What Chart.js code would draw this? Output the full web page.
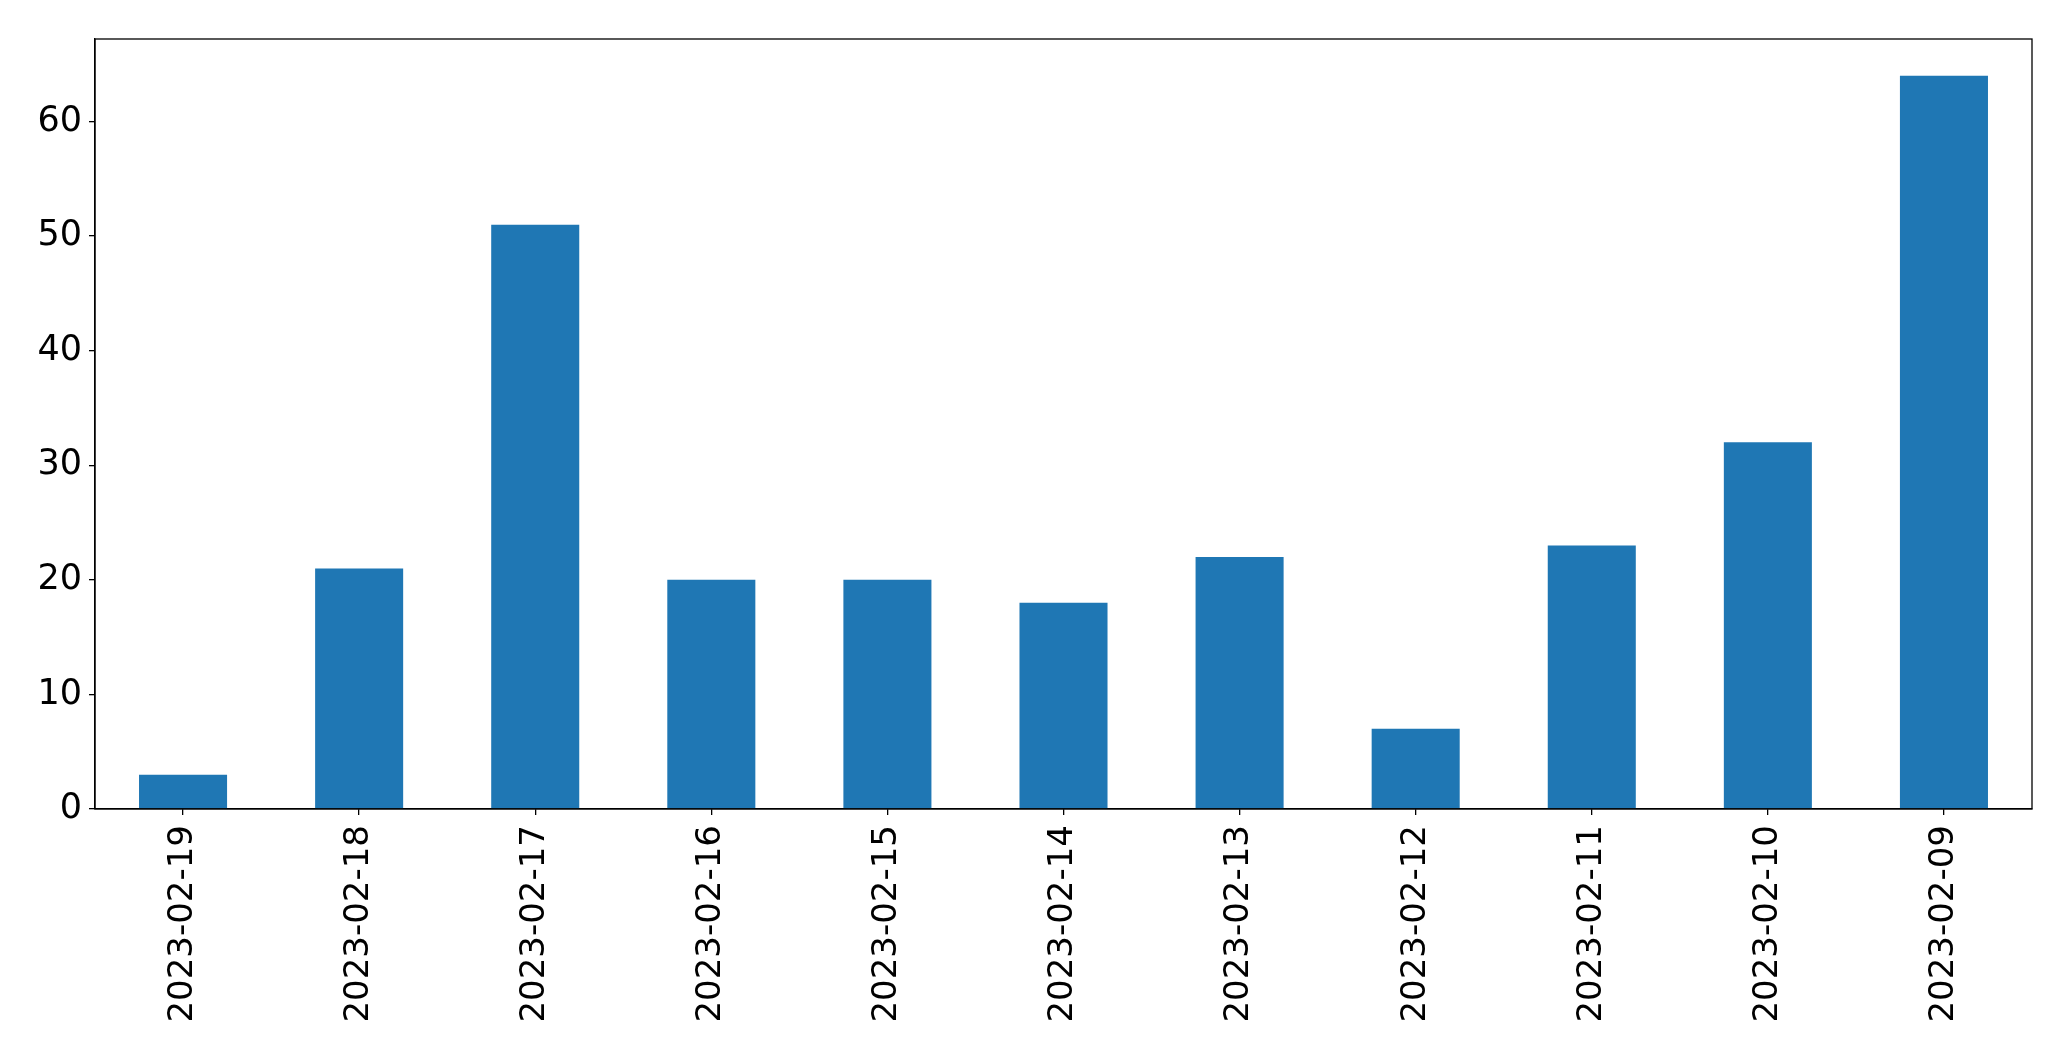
<!DOCTYPE html>
<html>
<head>
<meta charset="utf-8">
<script src="https://cdn.jsdelivr.net/npm/chart.js@4.4.0/dist/chart.umd.min.js"></script>
<style>
  html, body { margin: 0; padding: 0; background: #fff; }
  #wrap { width: 2071px; height: 1061px; }
</style>
</head>
<body>
<div id="wrap"><canvas id="mainChart" width="2071" height="1061"></canvas></div>
<script>
// dates (x axis, as shown left to right)
const dates = ["2023-02-19", "2023-02-18", "2023-02-17", "2023-02-16", "2023-02-15", "2023-02-14",
               "2023-02-13", "2023-02-12", "2023-02-11", "2023-02-10", "2023-02-09"];
// counts per date
const counts = [3, 21, 51, 20, 20, 18, 22, 7, 23, 32, 64];
const yTicks = [0, 10, 20, 30, 40, 50, 60];

const fontFam = "'DejaVu Sans', sans-serif";

// frame around the plot area (top + right sides like matplotlib)
const framePlugin = {
    id: "frame",
    afterDraw(chart) {
        const a = chart.chartArea;
        const ctx = chart.ctx;
        ctx.save();
        ctx.strokeStyle = "#000";
        ctx.lineWidth = 1.3;
        ctx.strokeRect(a.left, a.top, a.right - a.left, a.bottom - a.top);
        ctx.restore();
    }
};

new Chart(document.getElementById("mainChart"), {
    type: "bar",
    data: {
        labels: dates,
        datasets: [{
            data: counts,
            backgroundColor: "#1f77b4",
            barPercentage: 0.5,
            categoryPercentage: 1.0
        }]
    },
    options: {
        responsive: false,
        animation: false,
        layout: { padding: { left: 0, top: 39, right: 39, bottom: 0 } },
        plugins: { legend: { display: false }, tooltip: { enabled: false } },
        scales: {
            x: {
                grid: { display: true, offset: false, drawOnChartArea: false, drawTicks: true, tickLength: 6, color: "#000", lineWidth: 1.3 },
                border: { display: true, color: "#000", width: 1.3 },
                ticks: {
                    color: "#000",
                    font: { family: fontFam, size: 34 },
                    minRotation: 90, maxRotation: 90,
                    padding: 10,
                    autoSkip: false
                },
                afterFit(scale) { scale.height = 252; }
            },
            y: {
                min: 0,
                max: 67.2,
                grid: { display: true, drawOnChartArea: false, drawTicks: true, tickLength: 6, color: "#000", lineWidth: 1.3 },
                border: { display: true, color: "#000", width: 1.3 },
                ticks: {
                    color: "#000",
                    font: { family: fontFam, size: 35 },
                    stepSize: 10,
                    padding: 7
                },
                afterBuildTicks(scale) {
                    scale.ticks = yTicks.map(v => ({ value: v }));
                },
                afterFit(scale) { scale.width = 95; }
            }
        }
    },
    plugins: [framePlugin]
});
</script>
</body>
</html>
